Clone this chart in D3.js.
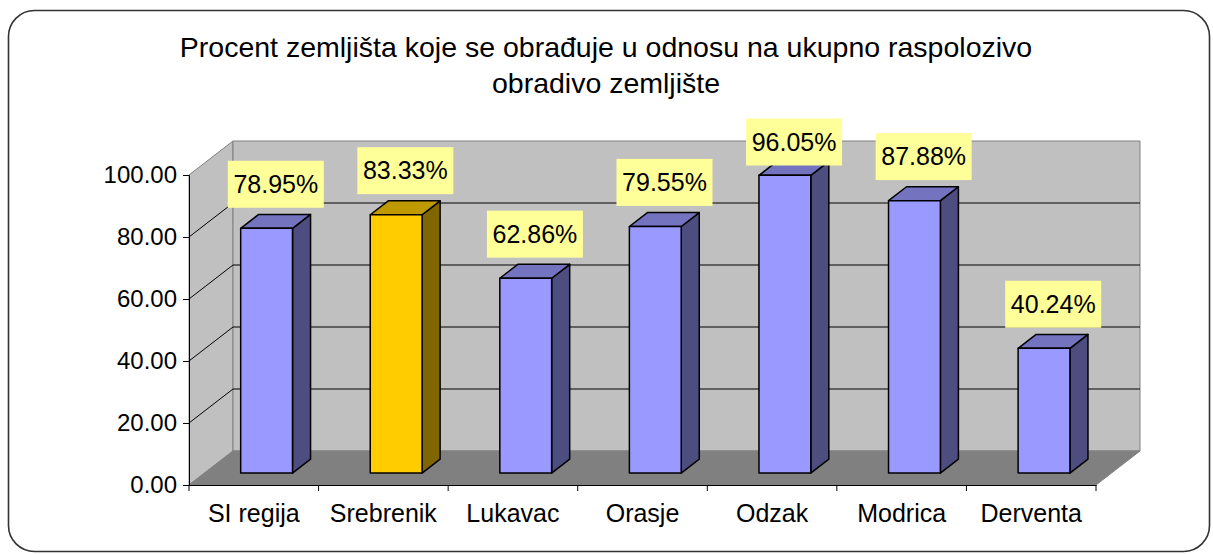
<!DOCTYPE html>
<html>
<head>
<meta charset="utf-8">
<script src="https://cdn.jsdelivr.net/npm/d3@7"></script>
<style>
  body { margin: 0; background: #fff; }
  svg text { font-family: "Liberation Sans", Arial, sans-serif; }
</style>
</head>
<body>
<div id="chart"></div>
<script>
// data
const categories = ["SI regija", "Srebrenik", "Lukavac", "Orasje", "Odzak", "Modrica", "Derventa"];
const values = [78.95, 83.33, 62.86, 79.55, 96.05, 87.88, 40.24];
const highlighted = ["Srebrenik"];
const yTicks = [0, 20, 40, 60, 80, 100];
const titleLines = ["Procent zemljišta koje se obrađuje u odnosu na ukupno raspolozivo", "obradivo zemljište"];

const width = 1213, height = 554;
const plot = {left: 189, right: 1096, top: 175, bottom: 485};
const depth = {dx: 44, dy: -34};   // 3d offset of the back wall
const barFront = 0.35, barDepth = 0.41; // fractions of the depth

const svg = d3.select('#chart').append('svg')
  .attr('width', width).attr('height', height)
  .attr('viewBox', `0 0 ${width} ${height}`);

// outer frame
svg.append('rect')
  .attr('x', 8.5).attr('y', 10.5).attr('width', 1201).attr('height', 541)
  .attr('rx', 26).attr('fill', '#fff').attr('stroke', '#333').attr('stroke-width', 1.6);

// title
svg.append('text')
  .attr('text-anchor', 'middle').attr('font-size', 28.5).attr('fill', '#000')
  .selectAll('tspan').data(titleLines).join('tspan')
  .attr('x', 606).attr('y', (d, i) => 57 + i * 36)
  .text(d => d);

const x = d3.scaleBand().domain(categories).range([plot.left, plot.right]);
const y = d3.scaleLinear().domain([0, 100]).range([plot.bottom, plot.top]);
const bw = x.bandwidth();

const pts = p => p.map(q => q.join(',')).join(' ');

// walls and floor
const y0 = y(0), y100 = y(100);
svg.append('polygon') // left wall
  .attr('points', pts([[plot.left, y0], [plot.left, y100], [plot.left + depth.dx, y100 + depth.dy], [plot.left + depth.dx, y0 + depth.dy]]))
  .attr('fill', '#c0c0c0').attr('stroke', '#808080');
svg.append('polygon') // back wall
  .attr('points', pts([[plot.left + depth.dx, y100 + depth.dy], [plot.right + depth.dx, y100 + depth.dy], [plot.right + depth.dx, y0 + depth.dy], [plot.left + depth.dx, y0 + depth.dy]]))
  .attr('fill', '#c0c0c0').attr('stroke', '#808080');
svg.append('polygon') // floor
  .attr('points', pts([[plot.left, y0], [plot.right, y0], [plot.right + depth.dx, y0 + depth.dy], [plot.left + depth.dx, y0 + depth.dy]]))
  .attr('fill', '#808080').attr('stroke', '#808080');

// gridlines
const grid = svg.append('g').attr('fill', 'none').attr('stroke', '#000').attr('stroke-width', 1);
grid.selectAll('polyline').data(yTicks.filter(t => t > 0 && t < 100)).join('polyline')
  .attr('points', t => pts([[plot.left, y(t)], [plot.left + depth.dx, y(t) + depth.dy], [plot.right + depth.dx, y(t) + depth.dy]]));

// bars
const fmt = d3.format('.2f');
const data = categories.map((c, i) => ({cat: c, value: values[i], hi: highlighted.includes(c)}));
const colors = {
  normal: {front: '#9999ff', side: '#4d4d80', top: '#7373bf'},
  hi: {front: '#ffcc00', side: '#806600', top: '#bf9900'}
};
const bars = svg.append('g').attr('stroke', '#000').attr('stroke-width', 1.5).attr('stroke-linejoin', 'round')
  .selectAll('g').data(data).join('g');
bars.each(function (d) {
  const g = d3.select(this);
  const col = d.hi ? colors.hi : colors.normal;
  const fx = x(d.cat) + bw * 0.28 + depth.dx * barFront;
  const fw = bw * 0.4;
  const fb = y(0) + depth.dy * barFront;
  const ft = y(d.value) + depth.dy * barFront;
  const ddx = depth.dx * barDepth, ddy = depth.dy * barDepth;
  g.append('polygon').attr('fill', col.side)
    .attr('points', pts([[fx + fw, fb], [fx + fw, ft], [fx + fw + ddx, ft + ddy], [fx + fw + ddx, fb + ddy]]));
  g.append('polygon').attr('fill', col.top)
    .attr('points', pts([[fx, ft], [fx + fw, ft], [fx + fw + ddx, ft + ddy], [fx + ddx, ft + ddy]]));
  g.append('rect').attr('fill', col.front)
    .attr('x', fx).attr('y', ft).attr('width', fw).attr('height', fb - ft);
});

// axes
const yAxis = svg.append('g')
  .attr('transform', `translate(${plot.left},0)`)
  .call(d3.axisLeft(y).tickValues(yTicks).tickFormat(fmt).tickSize(6).tickPadding(6));
yAxis.selectAll('text').attr('font-size', 24).attr('fill', '#000').attr('font-family', null);
yAxis.selectAll('line, path').attr('stroke', '#000');

const xAxis = svg.append('g')
  .attr('transform', `translate(0,${plot.bottom})`)
  .call(d3.axisBottom(x).tickSize(0).tickPadding(19).tickSizeOuter(0));
xAxis.selectAll('text').attr('font-size', 25).attr('fill', '#000').attr('font-family', null);
xAxis.select('.domain').attr('stroke', '#000');
xAxis.selectAll('line.sep').data([...categories.map(c => x(c)), plot.right]).join('line')
  .attr('class', 'sep').attr('x1', d => d).attr('x2', d => d).attr('y1', 0).attr('y2', 6)
  .attr('stroke', '#000');

// data labels
const labels = svg.append('g').selectAll('g').data(data).join('g')
  .attr('transform', d => {
    const cx = x(d.cat) + bw / 2 + 22;
    const cy = Math.max(y(d.value) - 56, 142);
    return `translate(${cx},${cy})`;
  });
labels.append('rect')
  .attr('x', -48).attr('y', -23.5).attr('width', 96).attr('height', 47)
  .attr('fill', '#ffff99');
labels.append('text')
  .attr('text-anchor', 'middle').attr('dy', '0.35em')
  .attr('font-size', 25).attr('fill', '#000')
  .text(d => fmt(d.value) + '%');
</script>
</body>
</html>
